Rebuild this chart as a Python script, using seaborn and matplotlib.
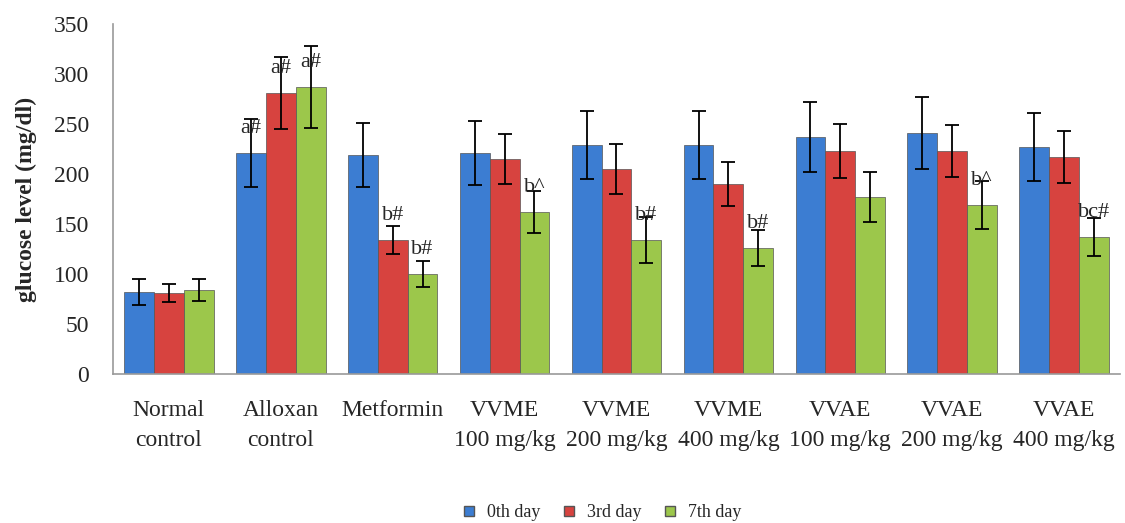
import numpy as np
import pandas as pd
import matplotlib
matplotlib.use("Agg")
import matplotlib.pyplot as plt
import seaborn as sns

# values
groups = ["Normal\ncontrol", "Alloxan\ncontrol", "Metformin",
          "VVME\n100 mg/kg", "VVME\n200 mg/kg", "VVME\n400 mg/kg",
          "VVAE\n100 mg/kg", "VVAE\n200 mg/kg", "VVAE\n400 mg/kg"]
days = ["0th day", "3rd day", "7th day"]

day0 = [82, 221, 219, 221, 229, 229, 237, 241, 227]
day3 = [81, 281, 134, 215, 205, 190, 223, 223, 217]
day7 = [84, 287, 100, 162, 134, 126, 177, 169, 137]

err0 = [13, 34, 32, 32, 34, 34, 35, 36, 34]
err3 = [9, 36, 14, 25, 25, 22, 27, 26, 26]
err7 = [11, 41, 13, 21, 23, 18, 25, 24, 19]

# significance letters (group index, day index, text)
marks = [(1, 0, "a#"), (1, 1, "a#"), (1, 2, "a#"),
         (2, 1, "b#"), (2, 2, "b#"),
         (3, 2, "b^"), (4, 2, "b#"), (5, 2, "b#"),
         (7, 2, "b^"), (8, 2, "bc#")]

colors = ["#3C7DD2", "#D7433F", "#9CC74B"]

df = pd.DataFrame({
    "group": groups * 3,
    "day": np.repeat(days, len(groups)),
    "value": day0 + day3 + day7,
})
errs = [err0, err3, err7]
vals = [day0, day3, day7]

sns.set_style("white")
plt.rcParams["font.family"] = ["Liberation Serif", "DejaVu Serif"]

fig = plt.figure(figsize=(11.25, 5.23), dpi=100)
ax = fig.add_axes([0.1004, 0.2849, 0.8952, 0.669])

sns.barplot(data=df, x="group", y="value", hue="day", palette=colors,
            saturation=1, errorbar=None, width=0.8, ax=ax, legend=False,
            edgecolor="#555555", linewidth=0.5)

bars = list(ax.containers)

# error bars at the bar centres
for k, cont in enumerate(bars):
    xs = [p.get_x() + p.get_width() / 2 for p in cont.patches]
    ax.errorbar(xs, vals[k], yerr=errs[k], fmt="none", ecolor="black",
                elinewidth=1.3, capsize=5, capthick=1.3, zorder=5)

for gi, di, txt in marks:
    p = bars[di].patches[gi]
    xc = p.get_x() + p.get_width() / 2
    ax.text(xc, vals[di][gi] + 25, txt, ha="center", va="center",
            fontsize=16, zorder=6)

ax.set_xlim(-0.5, 8.5)
ax.set_ylim(0, 350)
ax.set_yticks(range(0, 351, 50))
ax.set_xlabel("")
ax.set_ylabel("glucose level (mg/dl)", fontsize=17, fontweight="bold", labelpad=12)
ax.tick_params(axis="both", length=0, labelsize=17)
ax.tick_params(axis="x", pad=19)
ax.tick_params(axis="y", pad=17)
for lbl in ax.get_xticklabels():
    lbl.set_linespacing(1.55)
for s in ["top", "right"]:
    ax.spines[s].set_visible(False)
for s in ["left", "bottom"]:
    ax.spines[s].set_color("#999999")
    ax.spines[s].set_linewidth(1.2)

handles = [plt.Line2D([], [], marker="s", linestyle="none", markersize=7,
                      markerfacecolor=c, markeredgecolor="#555555") for c in colors]
fig.legend(handles, days, loc="center", bbox_to_anchor=(0.53, 0.02), ncol=3,
           frameon=False, fontsize=13, handletextpad=0.0, columnspacing=0.6)

fig.savefig("out.png", dpi=100)
